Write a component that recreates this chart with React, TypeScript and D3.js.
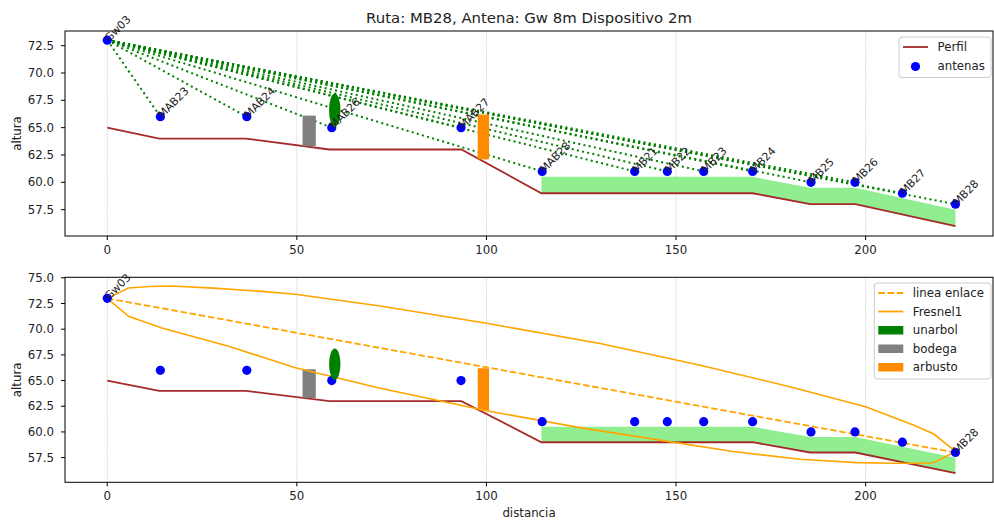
import React from "react";
import * as d3 from "d3";

// antenas
const nombres = ["Gw03", "MAB23", "MAB24", "MAB26", "MAB27", "MAB28", "MB21", "MB22", "MB23", "MB24", "MB25", "MB26", "MB27", "MB28"];
const distAntenas = [0, 14, 36.8, 59.2, 93.3, 114.7, 139.1, 147.7, 157.3, 170.2, 185.6, 197.2, 209.7, 223.7];
const altAntenas = [73, 66, 66, 65, 65, 61, 61, 61, 61, 61, 60, 60, 59, 58];

// perfil del terreno
const perfilX = [0, 13.7, 36.6, 58.6, 93.4, 114.5, 170.2, 185.4, 197.3, 223.7];
const perfilY = [65, 64, 64, 63, 63, 59, 59, 58, 58, 56];

// vegetacion (relleno verde)
const vegX = [114.5, 170.2, 185.4, 197.3, 223.7];
const vegBase = [59, 59, 58, 58, 56];
const vegTop = [60.5, 60.5, 59.5, 59.5, 57.5];

// obstaculos
const bodega = { x0: 51.5, x1: 55, y0: 63.3, y1: 66.1 };
const arbusto = { x0: 97.7, x1: 100.7, y0: 62.1, y1: 66.2 };
const unarbol = { cx: 60, cy: 66.6, w: 3, h: 3.05 };

// enlace y fresnel
const enlace = [[0, 73], [223.7, 58]];
const fresnelArriba = [[0, 73], [5.6, 74.01], [11.2, 74.15], [17, 74.2], [28, 74.0], [40, 73.7], [49.6, 73.4], [72, 72.26], [100, 70.57], [130, 68.6], [156.4, 66.5], [180, 64.4], [200, 62.46], [212.6, 60.68], [218, 59.8], [223.7, 58.1]];
const fresnelAbajo = [[0, 73], [5.6, 71.25], [14.4, 70.12], [32, 68.34], [49.6, 66.25], [72, 64.25], [100, 62.07], [125, 60.4], [150, 58.96], [165, 58.1], [182.8, 57.34], [197.7, 57.01], [207.4, 56.95], [212.6, 56.95], [218, 57.0], [223.7, 58.1]];

const xTicks = [0, 50, 100, 150, 200];
const yTicksTop = [57.5, 60, 62.5, 65, 67.5, 70, 72.5];
const yTicksBottom = [57.5, 60, 62.5, 65, 67.5, 70, 72.5, 75];

const W = 994;
const H = 524;
const left = 65;
const right = 993;
const font = "DejaVu Sans, sans-serif";
const fs = 11.8;

const x = d3.scaleLinear().domain([-11.15, 233.6]).range([left, right]);

function Panel({ top, bottom, yDomain, yTicks, lower }) {
  const y = d3.scaleLinear().domain(yDomain).range([bottom, top]);
  const line = d3.line().x((d) => x(d[0])).y((d) => y(d[1]));
  const perfil = perfilX.map((v, i) => [v, perfilY[i]]);
  const veg = d3
    .area()
    .x((d) => x(d[0]))
    .y0((d) => y(d[1]))
    .y1((d) => y(d[2]));
  const vegData = vegX.map((v, i) => [v, vegBase[i], vegTop[i]]);
  const last = distAntenas.length - 1;

  return (
    <g>
      {xTicks.map((t) => (
        <line key={t} x1={x(t)} x2={x(t)} y1={top} y2={bottom} stroke="#b0b0b0" strokeWidth={0.8} strokeDasharray="0.8,1.3" />
      ))}
      <path d={veg(vegData)} fill="#90ee90" />
      <path d={line(perfil)} fill="none" stroke="#a52a2a" strokeWidth={1.8} />
      {!lower &&
        distAntenas.slice(1).map((d, i) => (
          <path
            key={i}
            d={line([[distAntenas[0], altAntenas[0]], [d, altAntenas[i + 1]]])}
            fill="none"
            stroke="green"
            strokeWidth={2}
            strokeDasharray="2,3.3"
          />
        ))}
      <rect x={x(bodega.x0)} width={x(bodega.x1) - x(bodega.x0)} y={y(bodega.y1)} height={y(bodega.y0) - y(bodega.y1)} fill="gray" />
      <rect x={x(arbusto.x0)} width={x(arbusto.x1) - x(arbusto.x0)} y={y(arbusto.y1)} height={y(arbusto.y0) - y(arbusto.y1)} fill="#ff8c00" />
      {lower && (
        <g>
          <path d={line(enlace)} fill="none" stroke="orange" strokeWidth={1.8} strokeDasharray="6.5,2.8" />
          <path d={line(fresnelArriba)} fill="none" stroke="orange" strokeWidth={1.6} />
          <path d={line(fresnelAbajo)} fill="none" stroke="orange" strokeWidth={1.6} />
        </g>
      )}
      {distAntenas.map((d, i) => (
        <circle key={i} cx={x(d)} cy={y(altAntenas[i])} r={4.6} fill="blue" />
      ))}
      <ellipse
        cx={x(unarbol.cx)}
        cy={y(unarbol.cy)}
        rx={(x(unarbol.w) - x(0)) / 2}
        ry={(y(0) - y(unarbol.h)) / 2}
        fill="green"
      />
      {distAntenas.map((d, i) => {
        if (lower && i !== 0 && i !== last) return null;
        const px = x(d) + 2;
        const py = y(altAntenas[i]) + 2;
        return (
          <text key={i} transform={`translate(${px},${py}) rotate(-45)`} fontSize={10.9} fill="#222">
            {nombres[i]}
          </text>
        );
      })}
      <rect x={left} y={top} width={right - left} height={bottom - top} fill="none" stroke="black" strokeWidth={1} />
      {xTicks.map((t) => (
        <g key={t} transform={`translate(${x(t)},${bottom})`}>
          <line y2={4} stroke="black" />
          <text y={18} textAnchor="middle" fontSize={fs} fill="#222">
            {t}
          </text>
        </g>
      ))}
      {yTicks.map((t) => (
        <g key={t} transform={`translate(${left},${y(t)})`}>
          <line x2={-4} stroke="black" />
          <text x={-11} dy="0.35em" textAnchor="end" fontSize={fs} fill="#222">
            {t.toFixed(1)}
          </text>
        </g>
      ))}
      <text transform={`translate(21,${(top + bottom) / 2}) rotate(-90)`} textAnchor="middle" fontSize={fs} fill="#222">
        altura
      </text>
    </g>
  );
}

function Legend({ x0, y0, w, h, items }) {
  return (
    <g>
      <rect x={x0} y={y0} width={w} height={h} rx={3} fill="white" fillOpacity={0.8} stroke="#cccccc" />
      {items.map((it, i) => {
        const cy = y0 + 10 + i * 18.5;
        let handle = null;
        if (it.kind === "line")
          handle = <line x1={x0 + 4} x2={x0 + 29} y1={cy} y2={cy} stroke={it.color} strokeWidth={1.8} strokeDasharray={it.dash} />;
        if (it.kind === "dot") handle = <circle cx={x0 + 16.5} cy={cy + 1} r={4.6} fill={it.color} />;
        if (it.kind === "patch") handle = <rect x={x0 + 4} y={cy - 4} width={25} height={8.5} fill={it.color} />;
        return (
          <g key={i}>
            {handle}
            <text x={x0 + 38.5} y={cy} dy="0.35em" fontSize={fs} fill="#222">
              {it.label}
            </text>
          </g>
        );
      })}
    </g>
  );
}

export default function App() {
  return (
    <svg width={W} height={H} style={{ position: "absolute", left: 0, top: 0, fontFamily: font }}>
      <rect width={W} height={H} fill="white" />
      <text x={(left + right) / 2} y={22.5} textAnchor="middle" fontSize={14.9} fill="#222">
        Ruta: MB28, Antena: Gw 8m Dispositivo 2m
      </text>
      <Panel top={31} bottom={236} yDomain={[55.09, 73.84]} yTicks={yTicksTop} lower={false} />
      <Panel top={277.3} bottom={482.3} yDomain={[55.1, 75.05]} yTicks={yTicksBottom} lower={true} />
      <text x={(left + right) / 2} y={517} textAnchor="middle" fontSize={fs} fill="#222">
        distancia
      </text>
      <Legend
        x0={899}
        y0={37}
        w={92}
        h={40.5}
        items={[
          { kind: "line", color: "#a52a2a", label: "Perfil" },
          { kind: "dot", color: "blue", label: "antenas" },
        ]}
      />
      <Legend
        x0={874.3}
        y0={283}
        w={116.7}
        h={96}
        items={[
          { kind: "line", color: "orange", dash: "6.5,2.8", label: "linea enlace" },
          { kind: "line", color: "orange", label: "Fresnel1" },
          { kind: "patch", color: "green", label: "unarbol" },
          { kind: "patch", color: "gray", label: "bodega" },
          { kind: "patch", color: "#ff8c00", label: "arbusto" },
        ]}
      />
    </svg>
  );
}
